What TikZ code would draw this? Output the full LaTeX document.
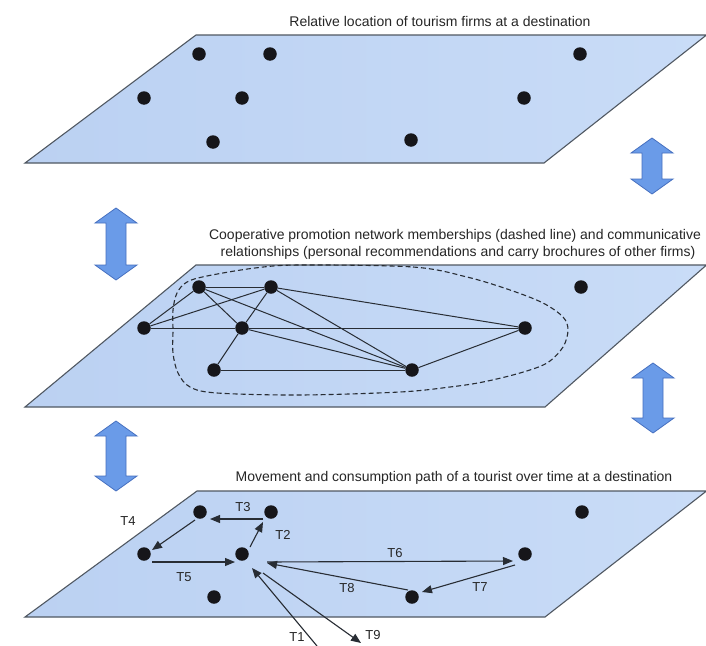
\documentclass[tikz,border=0pt]{standalone}
\usepackage{fontspec}
\setmainfont{Liberation Sans}
\usetikzlibrary{arrows.meta,calc}
\definecolor{panelL}{RGB}{187,209,242}
\definecolor{panelR}{RGB}{201,220,247}
\definecolor{edgec}{RGB}{80,88,98}
\definecolor{ink}{RGB}{40,45,52}
\definecolor{dotc}{RGB}{22,22,26}
\definecolor{barrowfill}{RGB}{106,155,232}
\definecolor{barrowline}{RGB}{70,112,192}
\newcommand\blockarr[3]{\path[blockarrow] (#1,#2) -- (#1+21,#2+15) -- (#1+10,#2+15) -- (#1+10,#3-15) -- (#1+21,#3-15) -- (#1,#3) -- (#1-21,#3-15) -- (#1-10,#3-15) -- (#1-10,#2+15) -- (#1-21,#2+15) -- cycle;}
\begin{document}
\begin{tikzpicture}[x=1pt,y=-1pt,
  panel/.style={draw=edgec,line width=1.1pt,left color=panelL,right color=panelR},
  dot/.style={circle,fill=dotc,inner sep=0pt,minimum size=13.5pt},
  link/.style={draw=ink,line width=1pt},
  member/.style={draw=ink,line width=1.1pt,dash pattern=on 5pt off 3pt},
  move/.style={draw=ink,line width=1.1pt,-{Triangle[length=10pt,width=8pt]}},
  lab/.style={font=\fontsize{13}{15}\selectfont,text=black!85,inner sep=0pt},
  title/.style={font=\fontsize{14}{16.5}\selectfont,text=black!85,inner sep=0pt,align=center},
  blockarrow/.style={fill=barrowfill,draw=barrowline,line width=0.8pt,line join=miter}
]
\useasboundingbox (0,0) rectangle (706,645);
\fill[white] (0,0) rectangle (706,645);

% block double arrows
\blockarr{116}{208}{280}
\blockarr{116}{421}{491}
\blockarr{652}{138}{194}
\blockarr{653}{363}{433}

% titles
\node[title] (ttop) at (440,21) {Relative location of tourism firms at a destination};
\node[title] (tmid1) at (455,236) {Cooperative promotion network memberships (dashed line) and communicative};
\node[title] (tmid2) at (458,253) {relationships (personal recommendations and carry brochures of other firms)};
\node[title] (tbot) at (454,478) {Movement and consumption path of a tourist over time at a destination};

% panels
\path[panel] (196,35) -- (706.5,35) -- (544,163) -- (25,163) -- cycle;
\path[panel] (196,265) -- (706.5,265) -- (545,407) -- (25,407) -- cycle;
\path[panel] (197,491) -- (706.5,491) -- (545,617) -- (25,617) -- cycle;

% top panel dots
\node[dot] (tA) at (199,54) {};
\node[dot] (tB) at (270,54) {};
\node[dot] (tC) at (580,54) {};
\node[dot] (tD) at (144,98) {};
\node[dot] (tE) at (242,98) {};
\node[dot] (tF) at (524,98) {};
\node[dot] (tG) at (213,142) {};
\node[dot] (tH) at (411,140) {};

% middle panel: membership outline
\draw[member] plot[smooth cycle,tension=0.55] coordinates {(300,265) (413,267) (467,277) (510,290) (543,303) (563,317) (568,330) (563,347) (547,363) (520,373) (483,382) (450,387) (400,392) (300,395) (217,393) (190,387) (178,373) (173,353) (173,330) (173,310) (177,293) (187,282) (207,276) (255,268)};

% middle panel dots
\node[dot] (mA) at (199,287) {};
\node[dot] (mB) at (271,287) {};
\node[dot] (mC) at (581,287) {};
\node[dot] (mD) at (144,328) {};
\node[dot] (mE) at (242,328) {};
\node[dot] (mF) at (525,328) {};
\node[dot] (mG) at (214,370) {};
\node[dot] (mH) at (412,370) {};

% communicative relationships
\draw[link] (mA) -- (mB);
\draw[link] (mA) -- (mD);
\draw[link] (mA) -- (mE);
\draw[link] (mA) -- (mH);
\draw[link] (mB) -- (mD);
\draw[link] (mB) -- (mE);
\draw[link] (mB) -- (mF);
\draw[link] (mB) -- (mH);
\draw[link] (mD) -- (mE);
\draw[link] (mE) -- (mF);
\draw[link] (mE) -- (mH);
\draw[link] (mE) -- (mG);
\draw[link] (mG) -- (mH);
\draw[link] (mH) -- (mF);

% bottom panel dots
\node[dot] (bA) at (200,512) {};
\node[dot] (bB) at (271,512) {};
\node[dot] (bC) at (582,512) {};
\node[dot] (bD) at (144,554) {};
\node[dot] (bE) at (242,554) {};
\node[dot] (bF) at (525,554) {};
\node[dot] (bG) at (214,597) {};
\node[dot] (bH) at (412,597) {};

% tourist path
\coordinate (inT) at (317,646);
\coordinate (outT) at (361,643);
\draw[move] (inT) -- ($(bE)+(10,14)$);
\draw[move] ($(bE)+(8,-7)$) -- ($(bB)+(-8,10)$);
\draw[move] ($(bB)+(-8,7)$) -- ($(bA)+(10,7)$);
\draw[move] ($(bA)+(-5,8)$) -- ($(bD)+(8,-4)$);
\draw[move] ($(bD)+(8,8)$) -- ($(bE)+(-7,8)$);
\draw[move] ($(bE)+(25,8)$) -- ($(bF)+(-12,7)$);
\draw[move] ($(bF)+(-10,11)$) -- ($(bH)+(10,-5)$);
\draw[move] ($(bH)+(-4,-7)$) -- ($(bE)+(25,9)$);
\draw[move] ($(bE)+(21,19)$) -- (outT);

% labels
\node[lab] (l1) at (297,637) {T1};
\node[lab] (l2) at (283,535) {T2};
\node[lab] (l3) at (243,507) {T3};
\node[lab] (l4) at (128,521) {T4};
\node[lab] (l5) at (184,577) {T5};
\node[lab] (l6) at (395,553) {T6};
\node[lab] (l7) at (480,587) {T7};
\node[lab] (l8) at (347,588) {T8};
\node[lab] (l9) at (373,635) {T9};
\end{tikzpicture}
\end{document}
